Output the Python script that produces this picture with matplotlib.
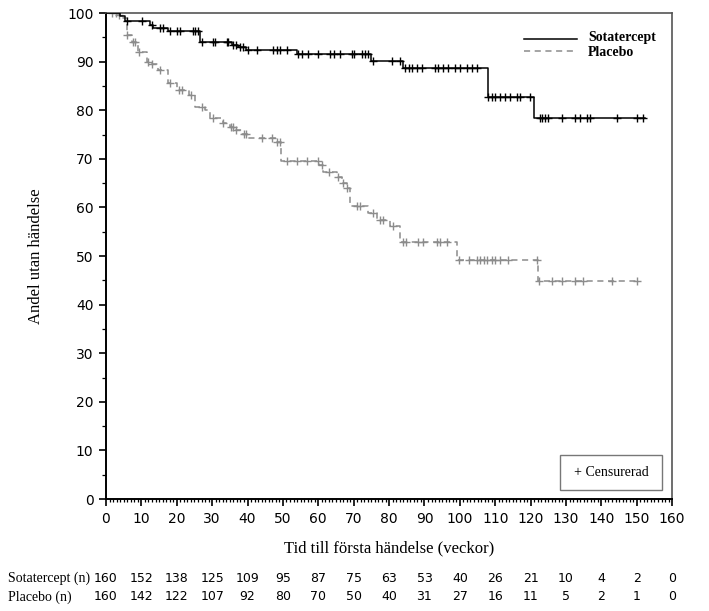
import numpy as np
import matplotlib
matplotlib.use('Agg')
import matplotlib.pyplot as plt
from matplotlib.ticker import MultipleLocator
from matplotlib.patches import Rectangle

# ── data ─────────────────────────────────────────────────────────────────────
# Kaplan-Meier step times (weeks) and the level reached at each step (%)
sota_t = [0, 4.0, 5.5, 12.3, 13.2, 17.5, 26.6, 35.5, 37.3, 39.6, 54.0, 75.0, 84.0, 107.9, 121.0]
sota_s = [100, 99.4, 98.3, 97.5, 96.9, 96.2, 94.1, 93.5, 93.1, 92.4, 91.5, 90.1, 88.6, 82.8, 78.5]
sota_end = 152.4
sota_cens = [6.0, 10.1, 12.9, 15.3, 16.0, 18.1, 20.2, 20.9, 24.5, 25.2, 25.9,
             27.0, 30.3, 30.8, 34.1, 34.6, 35.9, 36.8, 37.8, 38.7, 40.2, 42.6,
             47.3, 48.3, 49.2, 51.1, 54.4, 55.3, 57.2, 60.0, 63.3, 64.3, 66.1,
             69.5, 70.1, 72.3, 73.2, 74.1, 75.6, 80.8, 83.1, 84.5, 85.5, 86.4,
             87.8, 89.2, 93.0, 93.9, 95.3, 96.7, 98.7, 100.1, 101.9, 103.4, 104.8,
             108.1, 109.0, 110.0, 111.4, 112.8, 114.2, 116.1, 117.0, 119.9,
             122.7, 123.3, 124.1, 125.0, 128.8, 132.6, 134.0, 135.9, 136.8,
             144.4, 150.0, 151.9]

plac_t = [0, 3.4, 4.7, 5.8, 7.4, 9.0, 11.6, 12.4, 14.8, 17.6, 20.0, 23.5, 25.1,
          28.0, 29.4, 33.0, 35.0, 36.5, 38.5, 40.0, 48.0, 49.6, 60.3, 61.4,
          65.2, 66.6, 68.0, 69.0, 74.0, 76.7, 80.3, 83.1, 99.1, 122.0]
plac_s = [100, 99.5, 99.0, 95.5, 94.0, 92.0, 90.0, 89.6, 88.3, 85.5, 84.2, 83.2,
          80.7, 80.0, 78.3, 77.3, 76.6, 75.9, 75.1, 74.2, 73.5, 69.6, 68.7, 67.3,
          66.3, 65.1, 63.9, 60.3, 58.9, 57.5, 56.1, 52.9, 49.2, 44.9]
plac_end = 150.5
plac_cens = [1.8, 2.7, 3.6, 6.0, 7.5, 8.2, 9.2, 12.0, 12.9, 15.3, 18.1, 20.7, 21.4,
             23.9, 27.0, 30.3, 33.2, 35.2, 35.9, 36.8, 38.9, 39.6, 44.0, 46.8,
             48.2, 49.2, 51.1, 53.9, 56.7, 60.0, 61.0, 63.1, 65.7, 67.0, 68.2,
             70.9, 71.8, 75.4, 77.5, 78.2, 81.0, 84.0, 84.8, 88.3, 89.7, 93.5,
             94.4, 96.3, 99.9, 102.5, 104.8, 105.7, 106.7, 107.6, 109.0, 110.0,
             111.4, 113.7, 121.7, 122.4, 126.0, 128.8, 132.6, 134.9, 142.9, 150.2]

# numbers at risk
risk_times = [0, 10, 20, 30, 40, 50, 60, 70, 80, 90, 100, 110, 120, 130, 140, 150, 160]
sota_risk = [160, 152, 138, 125, 109, 95, 87, 75, 63, 53, 40, 26, 21, 10, 4, 2, 0]
plac_risk = [160, 142, 122, 107, 92, 80, 70, 50, 40, 31, 27, 16, 11, 5, 2, 1, 0]

SERIF = 'Liberation Serif'
SANS = 'DejaVu Sans'
GREY = '#8c8c8c'

AX_LEFT, AX_BOTTOM, AX_W, AX_H = 0.1495, 0.1833, 0.7985, 0.7954


def level_at(times, levels, t):
    idx = np.searchsorted(times, t, side='right') - 1
    return np.asarray(levels)[idx]


fig = plt.figure(figsize=(7.09, 6.11), dpi=100)
ax = fig.add_axes([AX_LEFT, AX_BOTTOM, AX_W, AX_H])

# ── curves ───────────────────────────────────────────────────────────────────
ax.step(sota_t + [sota_end], sota_s + [sota_s[-1]], where='post',
        color='black', lw=1.1, zorder=3)
ax.plot(sota_cens, level_at(sota_t, sota_s, np.array(sota_cens)), ls='none',
        marker='+', ms=6, mew=1.0, color='black', zorder=4)

ax.step(plac_t + [plac_end], plac_s + [plac_s[-1]], where='post',
        color=GREY, lw=1.1, ls=(0, (4, 3)), zorder=2)
ax.plot(plac_cens, level_at(plac_t, plac_s, np.array(plac_cens)), ls='none',
        marker='+', ms=6, mew=1.0, color=GREY, zorder=2)

# ── axes ─────────────────────────────────────────────────────────────────────
ax.set_xlim(0, 160)
ax.set_ylim(0, 100)
ax.xaxis.set_major_locator(MultipleLocator(10))
ax.xaxis.set_minor_locator(MultipleLocator(1))
ax.yaxis.set_major_locator(MultipleLocator(10))
ax.yaxis.set_minor_locator(MultipleLocator(5))
ax.tick_params(which='major', direction='out', length=5, width=1.2,
               labelsize=10, colors='black', pad=4)
ax.tick_params(which='minor', direction='out', length=3, width=0.9)
ax.tick_params(axis='x', which='minor', length=2.5)
for lab in ax.get_xticklabels() + ax.get_yticklabels():
    lab.set_family(SANS)
for sp in ['left', 'bottom']:
    ax.spines[sp].set_linewidth(1.4)
for sp in ['top', 'right']:
    ax.spines[sp].set_linewidth(1.2)
    ax.spines[sp].set_color('#555555')

ax.set_ylabel('Andel utan händelse', family=SERIF, fontsize=12, labelpad=17)
ax.set_xlabel('Tid till första händelse (veckor)', family=SERIF, fontsize=12,
              labelpad=11)

# ── legend ───────────────────────────────────────────────────────────────────
ax.plot([118.2, 133.0], [94.6, 94.6], color='black', lw=1.1, clip_on=False)
ax.plot([118.2, 133.0], [92.2, 92.2], color=GREY, lw=1.1, ls=(0, (4, 3)),
        clip_on=False)
ax.text(136.3, 94.9, 'Sotatercept', family=SERIF, fontweight='bold',
        fontsize=10, va='center', ha='left')
ax.text(136.3, 91.8, 'Placebo', family=SERIF, fontweight='bold',
        fontsize=10, va='center', ha='left')

# censored box
bx0 = (560 - 106) / 3.5375
bx1 = (662 - 106) / 3.5375
by0 = (499 - 490) / 4.86
by1 = (499 - 455) / 4.86
ax.add_patch(Rectangle((bx0, by0), bx1 - bx0, by1 - by0, fill=False,
                       edgecolor='#777777', lw=1.0))
ax.text((bx0 + bx1) / 2, (by0 + by1) / 2, '+ Censurerad', family=SERIF,
        fontsize=10, ha='center', va='center')

# ── numbers at risk ──────────────────────────────────────────────────────────
tr = ax.get_xaxis_transform()
for yy, name, vals in [(-0.1626, 'Sotatercept (n)', sota_risk),
                       (-0.2016, 'Placebo (n)', plac_risk)]:
    fig.text(8 / 709, AX_BOTTOM + yy * AX_H, name, family=SERIF, fontsize=10,
             va='center', ha='left')
    for t, v in zip(risk_times, vals):
        ax.text(t, yy, str(v), transform=tr, family=SANS, fontsize=9,
                ha='center', va='center', clip_on=False)

fig.savefig('out.png', dpi=100, facecolor='white')
